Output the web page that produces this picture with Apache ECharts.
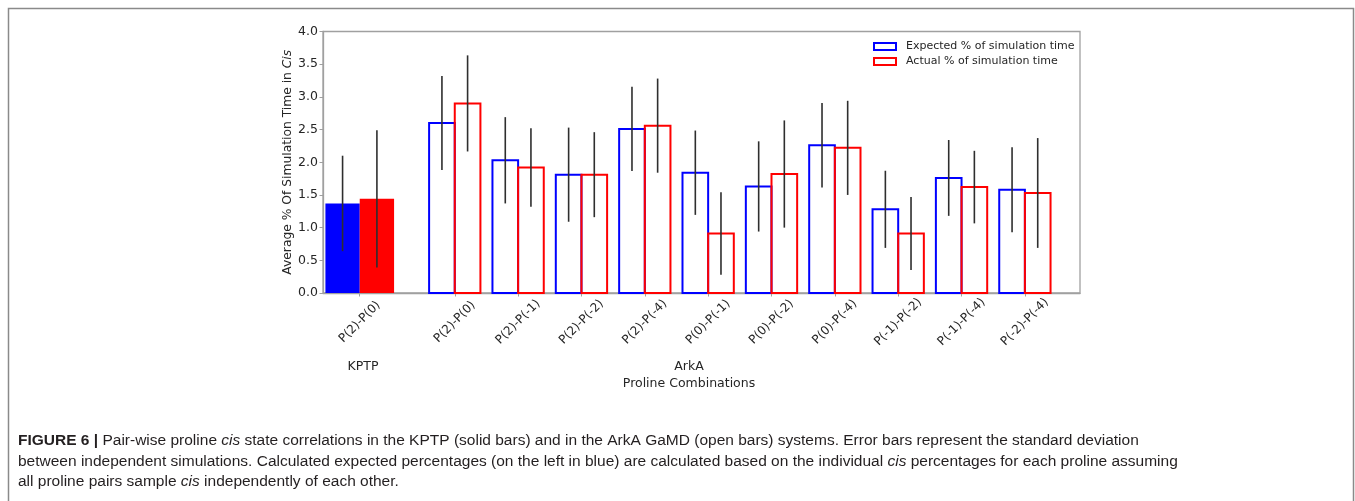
<!DOCTYPE html>
<html>
<head>
<meta charset="utf-8">
<script src="https://cdn.jsdelivr.net/npm/echarts@6/dist/echarts.min.js"></script>
<style>
  html, body { margin: 0; padding: 0; background: #ffffff; }
  #chart { width: 1355px; height: 501px; }
</style>
</head>
<body>
<div id="chart"></div>
<script>
// Proline pair labels
const kptpPairs = ['P(2)-P(0)'];
const arkaPairs = ['P(2)-P(0)', 'P(2)-P(-1)', 'P(2)-P(-2)', 'P(2)-P(-4)', 'P(0)-P(-1)',
                   'P(0)-P(-2)', 'P(0)-P(-4)', 'P(-1)-P(-2)', 'P(-1)-P(-4)', 'P(-2)-P(-4)'];

// KPTP (solid bars): mean % of simulation time in cis and standard deviation
const kptpExpected   = [1.37];
const kptpExpectedSd = [0.73];
const kptpActual     = [1.44];
const kptpActualSd   = [1.05];

// ArkA GaMD (open bars)
const arkaExpected   = [2.60, 2.03, 1.81, 2.51, 1.84, 1.63, 2.26, 1.28, 1.76, 1.58];
const arkaExpectedSd = [0.72, 0.66, 0.72, 0.645, 0.645, 0.69, 0.645, 0.59, 0.58, 0.65];
const arkaActual     = [2.90, 1.92, 1.81, 2.56, 0.91, 1.82, 2.22, 0.91, 1.62, 1.53];
const arkaActualSd   = [0.735, 0.60, 0.65, 0.72, 0.63, 0.82, 0.72, 0.56, 0.555, 0.84];

// Y axis ticks
const yTicks = [0, 0.5, 1.0, 1.5, 2.0, 2.5, 3.0, 3.5, 4.0];

const legendExpected = 'Expected % of simulation time';
const legendActual = 'Actual % of simulation time';

// Group centres along the x axis: KPTP first, then ArkA after a gap
const kptpX = kptpPairs.map((_, i) => i);
const arkaX = arkaPairs.map((_, i) => 1.5 + i);
const labelByX = {};
kptpX.forEach((x, i) => { labelByX[x.toFixed(1)] = kptpPairs[i]; });
arkaX.forEach((x, i) => { labelByX[x.toFixed(1)] = arkaPairs[i]; });
const tickX = kptpX.concat(arkaX);

const BLUE = '#0000ff';
const RED = '#ff0000';

// Bar with error bar; side -1 draws left of the group centre, +1 right of it
function barRenderer(side, half, filled, color) {
  return function (params, api) {
    const x = api.value(0), v = api.value(1), sd = api.value(2);
    const x0 = side < 0 ? x - half : x;
    const x1 = side < 0 ? x : x + half;
    const pTop = api.coord([x0, v]);
    const pBase = api.coord([x1, 0]);
    const cx = api.coord([(x0 + x1) / 2, 0])[0];
    const yHi = api.coord([x, v + sd])[1];
    const yLo = api.coord([x, v - sd])[1];
    return {
      type: 'group',
      children: [
        {
          type: 'rect',
          shape: { x: pTop[0], y: pTop[1], width: pBase[0] - pTop[0], height: pBase[1] - pTop[1] },
          style: filled ? { fill: color, stroke: null } : { fill: 'none', stroke: color, lineWidth: 2 }
        },
        {
          type: 'line',
          shape: { x1: cx, y1: yHi, x2: cx, y2: yLo },
          style: { stroke: '#2e2e2e', lineWidth: 1.6 }
        }
      ]
    };
  };
}

function rows(xs, vals, sds) {
  return xs.map((x, i) => [x, vals[i], sds[i]]);
}

const AXIS_GRAY = '#a0a0a0';
const TEXT = '#262626';
const FONT = 'DejaVu Sans';
const CAPTION_FONT = '15.5px "Liberation Sans"';

const chart = echarts.init(document.getElementById('chart'), null, { renderer: 'canvas' });

const option = {
  backgroundColor: '#ffffff',
  animation: false,
  grid: {
    left: 323, right: 275, top: 31.5, bottom: 208,
    show: true, borderColor: AXIS_GRAY, borderWidth: 1.3, backgroundColor: 'transparent'
  },
  legend: {
    orient: 'vertical',
    left: 868, top: 36,
    itemWidth: 22, itemHeight: 7, itemGap: 4,
    selectedMode: false,
    textStyle: { fontFamily: FONT, fontSize: 11, color: TEXT, padding: [0, 0, 0, 5] },
    data: [
      { name: legendExpected, icon: 'rect', itemStyle: { color: '#ffffff', borderColor: BLUE, borderWidth: 2 } },
      { name: legendActual, icon: 'rect', itemStyle: { color: '#ffffff', borderColor: RED, borderWidth: 2 } }
    ]
  },
  xAxis: {
    type: 'value',
    min: -0.58, max: 11.37,
    axisLine: { show: true, onZero: false, lineStyle: { color: AXIS_GRAY, width: 1.3 } },
    axisTick: { show: true, customValues: tickX, length: 3.5, lineStyle: { color: AXIS_GRAY } },
    splitLine: { show: false },
    axisLabel: {
      customValues: tickX,
      rotate: 45,
      align: 'center',
      verticalAlign: 'middle',
      margin: 29,
      hideOverlap: false,
      fontFamily: FONT, fontSize: 12, color: TEXT,
      formatter: v => labelByX[Number(v).toFixed(1)] || ''
    }
  },
  yAxis: {
    type: 'value',
    min: 0, max: 4, interval: 0.5,
    name: 'Average % Of Simulation Time in {i|Cis}',
    nameLocation: 'middle',
    nameRotate: 90,
    nameGap: 29,
    nameMoveOverlap: false,
    nameTextStyle: {
      fontFamily: FONT, fontSize: 12.3, color: TEXT,
      rich: { i: { fontFamily: FONT, fontSize: 12.3, color: TEXT, fontStyle: 'italic' } }
    },
    axisLine: { show: true, onZero: false, lineStyle: { color: AXIS_GRAY, width: 1.3 } },
    axisTick: { show: true, length: 3.5, lineStyle: { color: AXIS_GRAY } },
    splitLine: { show: false },
    axisLabel: {
      margin: 5, fontFamily: FONT, fontSize: 12.5, color: TEXT,
      customValues: yTicks,
      formatter: v => Number(v).toFixed(1)
    }
  },
  series: [
    {
      name: 'KPTP expected', type: 'custom',
      renderItem: barRenderer(-1, 0.542, true, BLUE),
      encode: { x: 0, y: 1 },
      data: rows(kptpX, kptpExpected, kptpExpectedSd)
    },
    {
      name: 'KPTP actual', type: 'custom',
      renderItem: barRenderer(1, 0.542, true, RED),
      encode: { x: 0, y: 1 },
      data: rows(kptpX, kptpActual, kptpActualSd)
    },
    {
      name: legendExpected, type: 'custom',
      itemStyle: { color: BLUE },
      renderItem: barRenderer(-1, 0.405, false, BLUE),
      encode: { x: 0, y: 1 },
      data: rows(arkaX, arkaExpected, arkaExpectedSd)
    },
    {
      name: legendActual, type: 'custom',
      itemStyle: { color: RED },
      renderItem: barRenderer(1, 0.405, false, RED),
      encode: { x: 0, y: 1 },
      data: rows(arkaX, arkaActual, arkaActualSd)
    }
  ],
  graphic: [
    // figure frame
    {
      type: 'rect', silent: true,
      shape: { x: 8.5, y: 8.5, width: 1345, height: 520 },
      style: { fill: 'none', stroke: '#8a8a8a', lineWidth: 1.5 }
    },
    // group labels under the axis
    {
      type: 'text', x: 363, y: 367,
      style: { text: 'KPTP', font: '12.5px "DejaVu Sans"', fill: TEXT, align: 'center', verticalAlign: 'middle' }
    },
    {
      type: 'text', x: 689, y: 367,
      style: { text: 'ArkA', font: '12.5px "DejaVu Sans"', fill: TEXT, align: 'center', verticalAlign: 'middle' }
    },
    {
      type: 'text', x: 689, y: 384,
      style: { text: 'Proline Combinations', font: '12.5px "DejaVu Sans"', fill: TEXT, align: 'center', verticalAlign: 'middle' }
    },
    // caption
    {
      type: 'text', x: 18, y: 441,
      style: {
        text: '{b|FIGURE 6 |} Pair-wise proline {i|cis} state correlations in the KPTP (solid bars) and in the ArkA GaMD (open bars) systems. Error bars represent the standard deviation',
        font: CAPTION_FONT, fill: '#231f20', verticalAlign: 'middle',
        rich: {
          b: { font: 'bold ' + CAPTION_FONT, fill: '#231f20' },
          i: { font: 'italic ' + CAPTION_FONT, fill: '#231f20' }
        }
      }
    },
    {
      type: 'text', x: 18, y: 461.5,
      style: {
        text: 'between independent simulations. Calculated expected percentages (on the left in blue) are calculated based on the individual {i|cis} percentages for each proline assuming',
        font: CAPTION_FONT, fill: '#231f20', verticalAlign: 'middle',
        rich: { i: { font: 'italic ' + CAPTION_FONT, fill: '#231f20' } }
      }
    },
    {
      type: 'text', x: 18, y: 481.5,
      style: {
        text: 'all proline pairs sample {i|cis} independently of each other.',
        font: CAPTION_FONT, fill: '#231f20', verticalAlign: 'middle',
        rich: { i: { font: 'italic ' + CAPTION_FONT, fill: '#231f20' } }
      }
    }
  ]
};

chart.setOption(option);
</script>
</body>
</html>
